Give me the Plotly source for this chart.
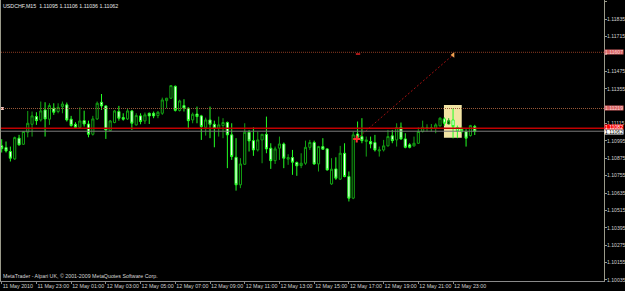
import plotly.graph_objects as go

# ---- data (M15 candles, USDCHF) ----
bar_index = list(range(110))
opens = [1.10961, 1.10949, 1.10922, 1.10871, 1.11014, 1.10972, 1.11055, 1.11110, 1.11163, 1.11140,
         1.11209, 1.11145, 1.11221, 1.11198, 1.11232, 1.11244, 1.11145, 1.11110, 1.11089, 1.11135,
         1.11112, 1.11041, 1.11147, 1.11262, 1.11237, 1.11066, 1.11122, 1.11198, 1.11156, 1.11147,
         1.11202, 1.11106, 1.11168, 1.11133, 1.11186, 1.11186, 1.11170, 1.11186, 1.11273, 1.11290,
         1.11372, 1.11205, 1.11239, 1.11221, 1.11140, 1.11181, 1.11168, 1.11089, 1.11140, 1.11110,
         1.11083, 1.11101, 1.11122, 1.11037, 1.10882, 1.10692, 1.10834, 1.11055, 1.10997, 1.10933,
         1.11002, 1.11041, 1.10945, 1.10859, 1.10945, 1.10974, 1.10869, 1.10880, 1.10846, 1.10825,
         1.10841, 1.10951, 1.10984, 1.10836, 1.10956, 1.10940, 1.10698, 1.10802, 1.10731, 1.10910,
         1.10749, 1.10600, 1.11043, 1.11025, 1.10991, 1.10991, 1.10984, 1.10926, 1.10933, 1.10961,
         1.11030, 1.11002, 1.11089, 1.11009, 1.10968, 1.10961, 1.10979, 1.11060, 1.11083, 1.11081,
         1.11083, 1.11099, 1.11147, 1.11112, 1.11140, 1.11087, 1.11076, 1.11060, 1.11032, 1.11095]
highs = [1.11007, 1.10991, 1.10956, 1.11025, 1.11037, 1.11062, 1.11202, 1.11198, 1.11193, 1.11267,
         1.11262, 1.11255, 1.11255, 1.11255, 1.11267, 1.11260, 1.11168, 1.11124, 1.11227, 1.11204,
         1.11135, 1.11168, 1.11267, 1.11319, 1.11240, 1.11140, 1.11209, 1.11237, 1.11186, 1.11221,
         1.11209, 1.11186, 1.11186, 1.11191, 1.11191, 1.11198, 1.11202, 1.11294, 1.11292, 1.11381,
         1.11378, 1.11280, 1.11283, 1.11227, 1.11191, 1.11232, 1.11175, 1.11156, 1.11232, 1.11135,
         1.11163, 1.11152, 1.11129, 1.11117, 1.11014, 1.10876, 1.11117, 1.11071, 1.11089, 1.11060,
         1.11043, 1.11163, 1.10979, 1.10956, 1.11025, 1.10984, 1.10903, 1.10933, 1.10853, 1.10910,
         1.10997, 1.11002, 1.10997, 1.10961, 1.11014, 1.10945, 1.10876, 1.10882, 1.10961, 1.10979,
         1.10784, 1.11060, 1.11129, 1.11152, 1.11025, 1.11025, 1.11037, 1.10956, 1.11002, 1.11071,
         1.11071, 1.11117, 1.11122, 1.11048, 1.10979, 1.11025, 1.11089, 1.11135, 1.11110, 1.11112,
         1.11117, 1.11158, 1.11158, 1.11152, 1.11220, 1.11101, 1.11094, 1.11076, 1.11106, 1.11106]
lows = [1.10915, 1.10915, 1.10853, 1.10864, 1.10963, 1.10968, 1.11020, 1.11025, 1.11106, 1.11129,
        1.11025, 1.11106, 1.11175, 1.11186, 1.11186, 1.11129, 1.11094, 1.11083, 1.11085, 1.11094,
        1.11020, 1.11032, 1.11140, 1.11209, 1.11009, 1.11064, 1.11117, 1.11135, 1.11135, 1.11140,
        1.11071, 1.11101, 1.11110, 1.11112, 1.11112, 1.11152, 1.11152, 1.11175, 1.11221, 1.11285,
        1.11198, 1.11198, 1.11198, 1.11076, 1.11117, 1.11117, 1.11002, 1.11032, 1.11014, 1.10951,
        1.11025, 1.11014, 1.10807, 1.10864, 1.10652, 1.10669, 1.10830, 1.10922, 1.10892, 1.10922,
        1.10841, 1.10910, 1.10802, 1.10836, 1.10864, 1.10807, 1.10830, 1.10761, 1.10754, 1.10807,
        1.10830, 1.10933, 1.10830, 1.10784, 1.10933, 1.10790, 1.10692, 1.10726, 1.10726, 1.10744,
        1.10577, 1.10593, 1.11002, 1.10979, 1.10887, 1.10944, 1.10922, 1.10887, 1.10922, 1.10956,
        1.10979, 1.10956, 1.11002, 1.10944, 1.10944, 1.10956, 1.10974, 1.11053, 1.11060, 1.11060,
        1.11048, 1.11094, 1.11099, 1.11110, 1.11013, 1.11014, 1.11048, 1.10956, 1.11025, 1.11036]
closes = [1.10942, 1.10926, 1.10876, 1.11018, 1.10968, 1.11060, 1.11117, 1.11168, 1.11135, 1.11202,
          1.11147, 1.11239, 1.11193, 1.11227, 1.11250, 1.11140, 1.11101, 1.11089, 1.11133, 1.11112,
          1.11041, 1.11147, 1.11255, 1.11237, 1.11071, 1.11133, 1.11202, 1.11152, 1.11145, 1.11202,
          1.11117, 1.11170, 1.11129, 1.11175, 1.11168, 1.11168, 1.11193, 1.11278, 1.11290, 1.11377,
          1.11206, 1.11271, 1.11221, 1.11135, 1.11179, 1.11163, 1.11094, 1.11140, 1.11110, 1.11083,
          1.11106, 1.11122, 1.11037, 1.10887, 1.10692, 1.10836, 1.11055, 1.10995, 1.10933, 1.11002,
          1.11041, 1.10940, 1.10859, 1.10940, 1.10974, 1.10876, 1.10880, 1.10848, 1.10823, 1.10841,
          1.10951, 1.10984, 1.10836, 1.10956, 1.10938, 1.10795, 1.10800, 1.10738, 1.10910, 1.10749,
          1.10600, 1.11037, 1.11020, 1.10997, 1.11002, 1.10974, 1.10933, 1.10933, 1.10961, 1.11025,
          1.10997, 1.11087, 1.11009, 1.10951, 1.10951, 1.10979, 1.11060, 1.11089, 1.11087, 1.11087,
          1.11106, 1.11152, 1.11117, 1.11135, 1.11094, 1.11062, 1.11060, 1.11014, 1.11101, 1.11062]

time_tick_bars = [0, 8, 16, 24, 32, 40, 48, 56, 64, 72, 80, 88, 96, 104]
time_tick_labels = ["11 May 2010", "11 May 23:00", "12 May 01:00", "12 May 03:00", "12 May 05:00",
                    "12 May 07:00", "12 May 09:00", "12 May 11:00", "12 May 13:00", "12 May 15:00",
                    "12 May 17:00", "12 May 19:00", "12 May 21:00", "12 May 23:00"]
price_ticks = [1.10035, 1.10155, 1.10275, 1.10395, 1.10515, 1.10635, 1.10755, 1.10875, 1.10995,
               1.11115, 1.11235, 1.11355, 1.11475, 1.11595, 1.11715, 1.11835, 1.11955]
# labels hidden behind the level boxes in the original
price_tick_labels = ["1.10035", "1.10155", "1.10275", "1.10395", "1.10515", "1.10635", "1.10755",
                     "1.10875", "1.10995", "1.11115", "", "1.11355", "1.11475", "", "1.11715",
                     "1.11835", "1.11955"]

# horizontal levels / objects
level_top = 1.11607
level_mid = 1.11219
level_red = 1.11082
bid_price = 1.11062
rect_bars = [101.9, 106.0]
rect_prices = [1.11017, 1.11243]
trend_bars = [81.8, 104.0]
trend_prices = [1.11009, 1.11589]
tp_mark_bars = [81.6, 82.6]
tp_mark_price = 1.11595

FONT = "Liberation Sans"
FS = 5.1

fig = go.Figure()
fig.add_trace(go.Candlestick(
    x=bar_index, open=opens, high=highs, low=lows, close=closes,
    increasing=dict(line=dict(color="#13a313", width=1), fillcolor="#000000"),
    decreasing=dict(line=dict(color="#22ff22", width=1), fillcolor="#ffffff"),
    whiskerwidth=0, showlegend=False, hoverinfo="skip",
))

# trend line (dotted)
fig.add_trace(go.Scatter(x=trend_bars, y=trend_prices, mode="lines",
                         line=dict(color="#a01010", width=1, dash="2px,2px"),
                         showlegend=False, hoverinfo="skip"))
# markers
fig.add_trace(go.Scatter(x=[trend_bars[0]], y=[trend_prices[0]], mode="markers",
                         marker=dict(symbol="cross-thin", size=5, line=dict(color="#ff3030", width=2)),
                         showlegend=False, hoverinfo="skip"))
fig.add_trace(go.Scatter(x=[trend_bars[1]], y=[trend_prices[1]], mode="markers",
                         marker=dict(symbol="triangle-left", size=5, color="#f0a050"),
                         showlegend=False, hoverinfo="skip"))
fig.add_trace(go.Scatter(x=tp_mark_bars, y=[tp_mark_price, tp_mark_price], mode="lines",
                         line=dict(color="#e02020", width=1.5),
                         showlegend=False, hoverinfo="skip"))
fig.add_trace(go.Scatter(x=[0.15], y=[level_mid], mode="markers",
                         marker=dict(symbol="square", size=3, color="#f0c0c0"),
                         showlegend=False, hoverinfo="skip", cliponaxis=False))

shapes = [
    dict(type="rect", xref="x", yref="y", x0=rect_bars[0], x1=rect_bars[1],
         y0=rect_prices[0], y1=rect_prices[1], fillcolor="#f2e4a4",
         line=dict(width=0), layer="below"),
    dict(type="line", xref="paper", yref="y", x0=0, x1=1, y0=level_top, y1=level_top,
         line=dict(color="#8a3a22", width=1, dash="1px,1px")),
    dict(type="line", xref="paper", yref="y", x0=0, x1=1, y0=level_mid, y1=level_mid,
         line=dict(color="#9a5a3a", width=1, dash="1px,1px")),
    dict(type="line", xref="paper", yref="y", x0=0, x1=1, y0=level_red, y1=level_red,
         line=dict(color="#c00000", width=1.5)),
    dict(type="line", xref="paper", yref="y", x0=0, x1=1, y0=bid_price, y1=bid_price,
         line=dict(color="#7a7a7a", width=1)),
]

annotations = [
    dict(text="USDCHF,M15  1.11095 1.11106 1.11036 1.11062", xref="paper", yref="paper",
         x=0, y=1, xanchor="left", yanchor="top", xshift=0, yshift=-1, showarrow=False,
         font=dict(family=FONT, size=5.3, color="#e8e8e8")),
    dict(text="MetaTrader - Alpari UK, © 2001-2009 MetaQuotes Software Corp.", xref="paper",
         yref="paper", x=0, y=0, xanchor="left", yanchor="bottom", xshift=0, yshift=0,
         showarrow=False, font=dict(family=FONT, size=5.3, color="#d8d8d8")),
]
for price, bg, fg, ys in [(level_top, "#d86464", "#f8d0d0", 0), (level_mid, "#d86464", "#f8d0d0", 0),
                          (level_red, "#ff0000", "#ffffff", 1.2), (bid_price, "#ffffff", "#000000", -0.6)]:
    annotations.append(dict(text=f"{price:.5f}", xref="paper", yref="y", x=1, y=price,
                            xanchor="left", yanchor="middle", xshift=0, yshift=ys,
                            showarrow=False, bgcolor=bg, borderpad=0, height=4.4,
                            font=dict(family=FONT, size=FS, color=fg)))

fig.update_layout(
    width=625, height=291,
    margin=dict(l=1, r=21, t=0, b=10, autoexpand=False),
    paper_bgcolor="#000000", plot_bgcolor="#000000",
    shapes=shapes, annotations=annotations,
    font=dict(family=FONT, size=FS, color="#d0d0d0"),
    xaxis=dict(range=[-0.16, 138.78], rangeslider=dict(visible=False),
               tickvals=time_tick_bars, ticktext=time_tick_labels,
               ticklabelposition="outside right", tickangle=0, automargin=False,
               showgrid=False, zeroline=False, showline=True, linecolor="#8a8a8a",
               linewidth=1, ticks="outside", ticklen=2, tickcolor="#8a8a8a",
               tickfont=dict(family=FONT, size=5.3, color="#d0d0d0")),
    yaxis=dict(range=[1.10028, 1.11968], side="right", tickvals=price_ticks,
               ticktext=price_tick_labels, automargin=False, ticklabelstandoff=-1,
               showgrid=False, zeroline=False, showline=True, mirror=True,
               linecolor="#9a9a8a", linewidth=1, ticks="outside", ticklen=2,
               tickcolor="#9a9a8a",
               tickfont=dict(family=FONT, size=FS, color="#d0d0d0")),
)

fig.write_html("out.html")
